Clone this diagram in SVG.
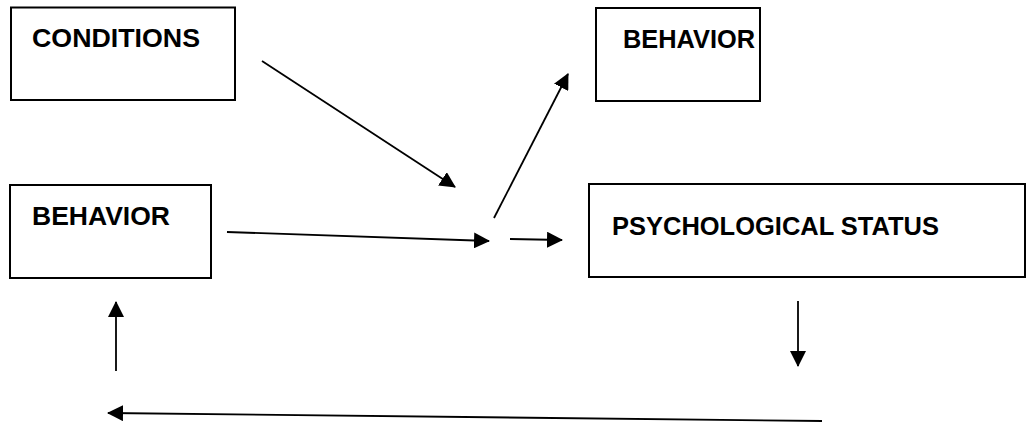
<svg xmlns="http://www.w3.org/2000/svg" width="1027" height="423" viewBox="0 0 1027 423">
<style>
.box{fill:#fff;stroke:#000;stroke-width:2}
.lbl{font-family:"Liberation Sans",Arial,sans-serif;font-weight:bold;font-size:26px;fill:#000}
.con{stroke:#000;stroke-width:1.8;fill:none;marker-end:url(#ah)}
</style>
<defs>
<marker id="ah" markerUnits="userSpaceOnUse" markerWidth="16" markerHeight="16" viewBox="0 0 16 16" refX="15" refY="8" orient="auto">
<path d="M0,0 L16,8 L0,16 Z" fill="#000"/>
</marker>
</defs>
<g id="conditions">
<rect class="box" x="11" y="7.5" width="224" height="92.5"/>
<text class="lbl" x="32" y="47" textLength="168" lengthAdjust="spacingAndGlyphs">CONDITIONS</text>
</g>
<g id="behavior-top">
<rect class="box" x="596" y="8" width="164" height="93"/>
<text class="lbl" x="623" y="48" textLength="132" lengthAdjust="spacingAndGlyphs">BEHAVIOR</text>
</g>
<g id="behavior-left">
<rect class="box" x="10" y="185" width="201" height="93"/>
<text class="lbl" x="32" y="225" textLength="138" lengthAdjust="spacingAndGlyphs">BEHAVIOR</text>
</g>
<g id="psych-status">
<rect class="box" x="589" y="184" width="436" height="93"/>
<text class="lbl" x="612" y="235" textLength="327" lengthAdjust="spacingAndGlyphs">PSYCHOLOGICAL STATUS</text>
</g>
<g id="connectors">
<line class="con" x1="262" y1="61" x2="455" y2="187"/>
<line class="con" x1="494" y1="218" x2="568" y2="74"/>
<line class="con" x1="227" y1="232" x2="489" y2="241"/>
<line class="con" x1="510" y1="239" x2="562" y2="240"/>
<line class="con" x1="798" y1="301" x2="798" y2="366"/>
<line class="con" x1="116" y1="371" x2="116" y2="302"/>
<line class="con" x1="822" y1="421" x2="108" y2="413"/>
</g>
</svg>
